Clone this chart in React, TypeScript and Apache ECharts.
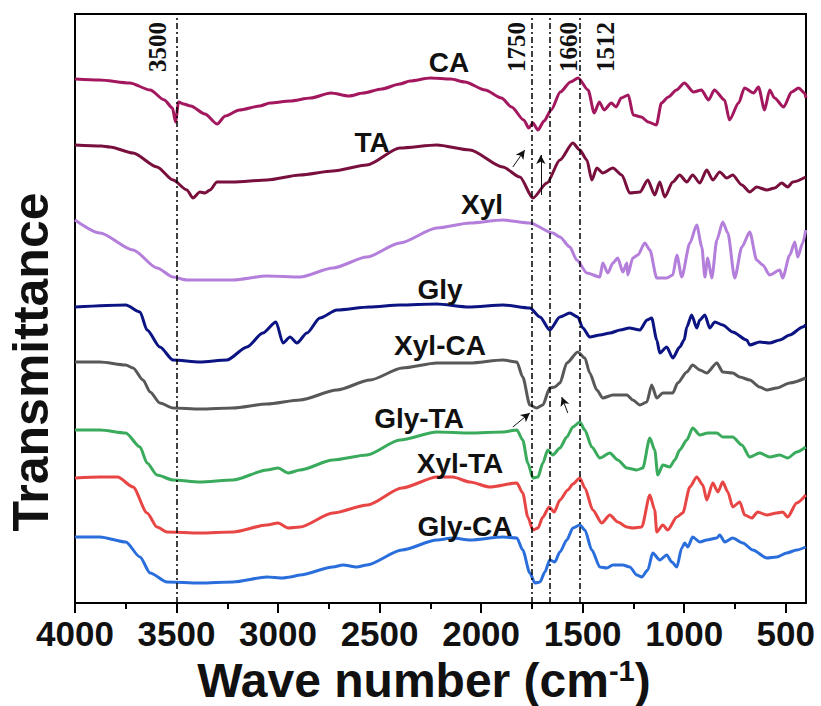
import React, { useEffect, useRef } from "react";
import * as echarts from "echarts";

// ---- data (wavenumber cm^-1, transmittance a.u. with vertical offsets) ----
const seriesNames = ["CA", "TA", "Xyl", "Gly", "Xyl-CA", "Gly-TA", "Xyl-TA", "Gly-CA"];
const seriesColors = ["#A3175E", "#780F3C", "#B47EDB", "#0B1482", "#585858", "#3AAA5C", "#E84545", "#2A6EDC"];

const caData = [[4000,524],[3880,523],[3730,520],[3630,513],[3560,503],[3520,495],[3505,481],[3490,501],[3465,499],[3430,497],[3360,489],[3300,479],[3260,487],[3190,493],[3090,497],[3040,500],[2940,502],[2840,505],[2740,510],[2650,507],[2580,510],[2490,514],[2400,519],[2350,522],[2250,525],[2150,524],[2080,521],[1980,513],[1900,505],[1850,496],[1790,483],[1765,475],[1745,480],[1720,473],[1690,482],[1655,493],[1610,511],[1560,521],[1522,525],[1473,513],[1443,490],[1418,501],[1394,493],[1359,500],[1335,496],[1310,505],[1275,508],[1251,488],[1211,486],[1177,481],[1137,478],[1112,500],[1078,506],[1038,513],[999,520],[954,511],[915,513],[880,503],[851,513],[801,503],[777,483],[732,500],[703,515],[658,510],[634,516],[604,493],[579,513],[555,505],[510,496],[471,511],[436,515],[407,510],[400,505]];

const taData = [[4000,458],[3870,457],[3828,456],[3714,450],[3596,436],[3517,423],[3449,413],[3419,405],[3385,411],[3360,410],[3335,413],[3301,421],[3222,421],[3055,423],[2892,428],[2730,432],[2563,438],[2400,455],[2218,458],[2055,453],[1893,436],[1809,426],[1745,405],[1676,420],[1612,443],[1548,460],[1514,453],[1479,443],[1455,423],[1430,435],[1401,430],[1351,435],[1307,428],[1268,410],[1218,411],[1179,423],[1145,408],[1120,421],[1096,406],[1056,421],[1022,428],[987,421],[958,428],[923,420],[889,433],[859,423],[825,431],[790,425],[761,428],[716,418],[677,411],[643,416],[593,413],[554,415],[520,420],[490,416],[465,421],[401,426]];

const xylData = [[4000,383],[3877,370],[3714,353],[3596,335],[3517,326],[3449,323],[3222,323],[3055,327],[2892,326],[2730,335],[2563,346],[2400,360],[2218,375],[2055,380],[1893,383],[1760,380],[1647,370],[1612,366],[1563,356],[1529,343],[1479,330],[1415,326],[1401,340],[1376,330],[1351,340],[1327,345],[1302,331],[1282,340],[1278,328],[1253,345],[1228,348],[1194,360],[1169,353],[1135,325],[1086,325],[1056,328],[1036,348],[1012,326],[972,360],[938,378],[913,356],[898,326],[884,345],[864,325],[839,363],[810,381],[785,370],[751,325],[716,356],[677,371],[643,343],[613,338],[579,328],[529,333],[515,325],[480,348],[455,361],[441,346],[416,360],[401,373]];

const glyData = [[4000,296],[3750,298],[3680,291],[3645,273],[3582,256],[3517,243],[3385,241],[3252,243],[3153,256],[3075,270],[3010,281],[2976,260],[2941,266],[2907,260],[2858,270],[2794,285],[2710,293],[2550,296],[2400,298],[2220,299],[2060,296],[1890,298],[1760,295],[1710,286],[1662,273],[1612,286],[1563,290],[1524,286],[1499,275],[1465,266],[1415,268],[1365,270],[1315,273],[1270,275],[1218,273],[1183,283],[1160,285],[1135,263],[1120,250],[1086,256],[1056,245],[1022,256],[1000,263],[987,276],[963,288],[938,275],[923,283],[898,288],[874,275],[849,281],[810,278],[761,271],[692,263],[677,258],[628,261],[579,260],[529,263],[480,268],[416,276],[401,278]];

const xylCaData = [[4000,241],[3877,241],[3750,238],[3714,235],[3665,223],[3630,211],[3582,200],[3517,195],[3385,194],[3222,195],[3055,199],[2892,203],[2710,213],[2547,223],[2388,235],[2218,240],[2055,240],[1893,243],[1824,241],[1795,226],[1760,198],[1727,195],[1696,198],[1662,215],[1637,216],[1612,220],[1578,240],[1524,251],[1489,245],[1465,230],[1430,213],[1401,205],[1351,208],[1282,208],[1253,203],[1218,198],[1184,201],[1160,218],[1135,205],[1105,210],[1056,210],[1032,220],[987,231],[958,238],[923,233],[889,230],[839,240],[810,231],[761,230],[726,226],[677,223],[628,216],[593,213],[544,215],[480,220],[401,225]];

const glyTaData = [[4000,173],[3877,173],[3750,170],[3680,156],[3645,140],[3596,128],[3517,123],[3385,121],[3222,123],[3055,133],[3000,135],[2950,130],[2892,133],[2730,143],[2563,148],[2400,163],[2218,171],[2055,170],[1893,171],[1824,173],[1795,163],[1770,140],[1745,125],[1720,126],[1696,140],[1672,153],[1647,148],[1612,155],[1578,166],[1548,176],[1514,181],[1489,173],[1455,156],[1415,145],[1366,150],[1327,143],[1282,135],[1233,133],[1204,135],[1169,165],[1145,153],[1130,128],[1105,138],[1071,136],[1046,143],[1022,153],[987,163],[958,175],[923,168],[884,170],[839,170],[810,166],[761,166],[716,158],[677,146],[628,150],[579,146],[529,148],[490,145],[446,151],[401,156]];

const xylTaData = [[4000,125],[3877,126],[3790,126],[3714,116],[3645,90],[3596,76],[3547,71],[3385,70],[3222,71],[3055,78],[3000,80],[2950,75],[2892,76],[2730,90],[2560,98],[2390,115],[2218,126],[2140,126],[2055,121],[1957,116],[1824,120],[1795,110],[1770,86],[1745,73],[1720,75],[1696,86],[1665,96],[1640,91],[1612,103],[1573,113],[1548,119],[1514,125],[1489,115],[1450,93],[1406,80],[1366,88],[1327,81],[1282,76],[1253,75],[1209,76],[1169,108],[1145,93],[1135,71],[1105,78],[1081,73],[1036,86],[1007,90],[972,116],[938,126],[908,118],[889,103],[859,120],[834,111],[810,121],[785,111],[761,96],[726,101],[702,88],[667,85],[638,91],[593,88],[544,90],[515,91],[490,86],[446,100],[401,108]];

const glyCaData = [[4000,66],[3877,66],[3750,61],[3680,46],[3630,30],[3547,21],[3385,20],[3222,21],[3055,26],[2976,25],[2941,26],[2892,28],[2730,36],[2680,38],[2612,36],[2563,38],[2390,53],[2218,63],[2140,65],[2055,63],[1893,66],[1824,65],[1795,53],[1760,30],[1735,20],[1710,21],[1686,31],[1662,43],[1637,41],[1612,51],[1578,63],[1548,75],[1514,78],[1489,73],[1455,53],[1415,36],[1381,35],[1351,38],[1302,38],[1268,36],[1233,28],[1209,26],[1179,33],[1155,50],[1120,43],[1086,48],[1061,41],[1036,36],[1012,55],[997,60],[982,56],[958,66],[923,61],[889,63],[839,65],[825,68],[800,61],[761,65],[711,60],[662,53],[593,45],[544,46],[495,50],[446,53],[401,56]];

const allData = [caData, taData, xylData, glyData, xylCaData, glyTaData, xylTaData, glyCaData];

const peakLines = [3500, 1750, 1660, 1512];
const peakLabels = ["3500", "1750", "1660", "1512"];
const majorTicks = [500, 1000, 1500, 2000, 2500, 3000, 3500, 4000];
const minorTicks = [750, 1250, 1750, 2250, 2750, 3250, 3750];

// arrows: [from, to] in data coordinates
const arrows = [
  [[1844, 436], [1785, 453]],
  [[1706, 408], [1706, 448]],
  [[1844, 176], [1760, 190]],
  [[1573, 190], [1603, 206]],
];

// layout (pixels)
const curveLabelPos = [
  [449, 62], [372, 142], [482, 204], [440, 289], [440, 345], [419, 418], [460, 463], [465, 526],
];
const peakLabelOffsets = [-19, -15, 18, 25];

const SANS = "'Liberation Sans', Arial, sans-serif";
const SERIF = "'Liberation Serif', 'Times New Roman', serif";

export default function App() {
  const ref = useRef<HTMLDivElement>(null);
  useEffect(() => {
    document.body.style.margin = "0";
    const chart = echarts.init(ref.current!, null, { renderer: "svg" });
    const series: any[] = allData.map((d, i) => ({
      name: seriesNames[i],
      type: "line",
      data: d,
      showSymbol: false,
      symbol: "none",
      silent: true,
      smooth: 0.25,
      smoothMonotone: "x",
      lineStyle: { width: 3, color: seriesColors[i] },
      itemStyle: { color: seriesColors[i] },
      z: 3,
    }));
    series[0].markLine = {
      silent: true,
      symbol: ["none", "none"],
      label: { show: false },
      lineStyle: { color: "#000", width: 1.5, type: [6, 3, 2, 3] },
      emphasis: { disabled: true },
      data: peakLines.map((v) => ({ xAxis: v })),
    };
    series[1].markLine = {
      silent: true,
      symbol: ["none", "arrow"],
      symbolSize: [7, 9],
      label: { show: false },
      lineStyle: { color: "#111", width: 1, type: "solid" },
      emphasis: { disabled: true },
      data: arrows.map((a) => [{ coord: a[0] }, { coord: a[1] }]),
    };
    const option: any = {
      animation: false,
      backgroundColor: "#fff",
      grid: {
        left: 75, right: 15, top: 14, bottom: 103, show: true, borderColor: "#000", borderWidth: 2,
        backgroundColor: "transparent", containLabel: false, outerBoundsMode: "none",
      },
      xAxis: [
        {
          type: "value", min: 400, max: 4000, inverse: true,
          axisLine: { show: true, lineStyle: { color: "#000", width: 2 } },
          axisTick: { show: true, length: 10, lineStyle: { color: "#000", width: 2 }, customValues: majorTicks },
          axisLabel: {
            customValues: majorTicks, showMinLabel: true, showMaxLabel: true, hideOverlap: false,
            formatter: (v: number) => String(v),
            fontSize: 35, lineHeight: 33, fontWeight: "bold", fontFamily: SANS, color: "#111", margin: 14,
          },
          splitLine: { show: false },
        },
        {
          type: "value", min: 400, max: 4000, inverse: true, position: "bottom",
          axisLine: { show: false },
          axisTick: { show: true, length: 6, lineStyle: { color: "#000", width: 2 }, customValues: minorTicks },
          axisLabel: { show: false },
          splitLine: { show: false },
        },
      ],
      yAxis: { type: "value", min: 0, max: 589, axisLine: { show: false }, axisTick: { show: false }, axisLabel: { show: false }, splitLine: { show: false } },
      series,
    };
    chart.setOption(option);

    const graphics: any[] = [];
    seriesNames.forEach((n, i) => {
      graphics.push({
        type: "text", x: curveLabelPos[i][0], y: curveLabelPos[i][1], z: 10,
        style: { text: n, font: `bold 28px ${SANS}`, fill: "#111", align: "center", verticalAlign: "middle" },
      });
    });
    peakLines.forEach((v, i) => {
      const px = chart.convertToPixel({ xAxisIndex: 0 }, v) as number;
      graphics.push({
        type: "text", x: px + peakLabelOffsets[i], y: 47, rotation: Math.PI / 2, z: 10,
        style: { text: peakLabels[i], font: `bold 25px ${SERIF}`, fill: "#111", align: "center", verticalAlign: "middle" },
      });
    });
    graphics.push({
      type: "text", x: 31, y: 362, rotation: Math.PI / 2, z: 10,
      style: { text: "Transmittance", font: `bold 50px ${SANS}`, fill: "#111", align: "center", verticalAlign: "middle" },
    });
    graphics.push({
      type: "text", x: 424, y: 680, z: 10,
      style: {
        text: "{a|Wave number (cm}{s|-1}{a|)}",
        align: "center", verticalAlign: "middle",
        rich: {
          a: { font: `bold 48px ${SANS}`, fill: "#111", lineHeight: 48, verticalAlign: "bottom" },
          s: { font: `bold 29px ${SANS}`, fill: "#111", lineHeight: 29, verticalAlign: "top" },
        },
      },
    });
    chart.setOption({ graphic: graphics });
    return () => chart.dispose();
  }, []);
  return <div ref={ref} style={{ width: 821, height: 706 }} />;
}
